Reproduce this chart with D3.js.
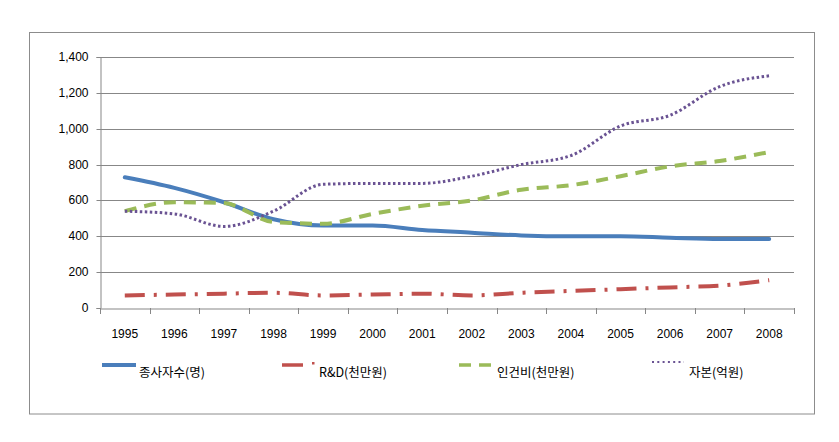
<!DOCTYPE html>
<html><head><meta charset="utf-8">
<script src="https://cdn.jsdelivr.net/npm/d3@7/dist/d3.min.js"></script>
<style>
body{margin:0;background:#fff;}
text{font-family:"Liberation Sans",Arial,sans-serif;}
.kr{font-family:"Noto Sans CJK KR","Noto Sans",sans-serif;}
</style></head>
<body><svg id="c" width="839" height="442"></svg>
<script>
const years = ["1995","1996","1997","1998","1999","2000","2001","2002","2003","2004","2005","2006","2007","2008"];
const workers = [729,670,590,495,460,460,435,420,405,400,400,392,385,385];
const rnd = [70,75,80,85,70,75,80,70,85,95,105,115,125,155];
const labor = [540,590,585,480,470,525,570,600,660,685,735,790,820,870];
const capital = [540,525,455,540,690,695,695,735,800,850,1015,1075,1235,1295];
const yTicks = [0,200,400,600,800,1000,1200,1400];
const seriesNames = ["종사자수(명)","R&D(천만원)","인건비(천만원)","자본(억원)"];

const svg = d3.select("#c");
svg.append("rect").attr("x",29.5).attr("y",32.5).attr("width",785).attr("height",381.5)
  .attr("fill","#fff").attr("stroke","#8c8c8c").attr("stroke-width",1);

const L=100, R=794, T=57, B=308;
const x = d3.scaleBand().domain(years).range([L,R]).padding(0);
const y = d3.scaleLinear().domain([0,1400]).range([B,T]);

// gridlines
svg.append("g").selectAll("line").data(yTicks.filter(d=>d>0)).join("line")
  .attr("x1",L).attr("x2",R).attr("y1",d=>Math.round(y(d))+0.5).attr("y2",d=>Math.round(y(d))+0.5)
  .attr("stroke","#878787").attr("stroke-width",1);

// y axis
const ya = svg.append("g").attr("transform",`translate(${L+0.5},0)`)
  .call(d3.axisLeft(y).tickValues(yTicks).tickSize(4).tickFormat(d3.format(",")));
ya.select(".domain").attr("stroke","#878787");
ya.selectAll(".tick line").attr("stroke","#878787");
ya.selectAll(".tick").attr("transform",d=>`translate(0,${Math.round(y(d))+0.5})`);
ya.selectAll(".tick text").attr("font-size",12).attr("fill","#000").attr("x",-12)
  .style("font-family","'Liberation Sans',Arial,sans-serif");

// x axis
const xa = svg.append("g").attr("transform",`translate(0,${B+0.5})`)
  .call(d3.axisBottom(x).tickSize(0).tickPadding(0));
xa.select(".domain").attr("stroke","#878787");
xa.selectAll(".tick text").attr("font-size",12).attr("fill","#000").attr("dy","29px")
  .style("font-family","'Liberation Sans',Arial,sans-serif");
const edges = years.map(d=>x(d)).concat([x(years[years.length-1])+x.bandwidth()]);
svg.append("g").selectAll("line").data(edges).join("line")
  .attr("x1",d=>Math.round(d)+0.5).attr("x2",d=>Math.round(d)+0.5)
  .attr("y1",B).attr("y2",B+6).attr("stroke","#878787");

const cx = i => x(years[i]) + x.bandwidth()/2;
const styles = [
  {data:workers, color:"#4a7ebb", w:4, dash:null, cap:"round"},
  {data:rnd, color:"#c0504d", w:4, dash:"20,9,3,9", cap:"butt"},
  {data:labor, color:"#9bbb59", w:4, dash:"12,8", cap:"butt"},
  {data:capital, color:"#6a5393", w:3, dash:"2.5,2.5", cap:"butt"}
];
const line = d3.line().x((d,i)=>cx(i)).y(d=>y(d)).curve(d3.curveMonotoneX);
styles.forEach(s=>{
  svg.append("path").datum(s.data).attr("d",line).attr("fill","none")
    .attr("stroke",s.color).attr("stroke-width",s.w).attr("stroke-linecap",s.cap)
    .attr("stroke-linejoin","round")
    .attr("stroke-dasharray",s.dash);
});

// legend
const ly = 365;
const leg = [
  {x1:102,x2:136,tx:139},
  {x1:282,x2:303,tx:319},
  {x1:459,x2:492,tx:497},
  {x1:652,x2:684,tx:689}
];
leg.forEach((l,i)=>{
  const s = styles[i];
  let dash = null;
  if(i===2) dash="12,8";
  if(i===3) dash="2,3.3";
  const w = i===3?2:(i===0?4:3.5);
  svg.append("line").attr("x1",l.x1).attr("x2",l.x2).attr("y1",i===3?ly-3:ly).attr("y2",i===3?ly-3:ly)
    .attr("stroke",s.color).attr("stroke-width",w).attr("stroke-dasharray",dash);
  if(i===1){
    svg.append("rect").attr("x",312).attr("y",ly-3).attr("width",2.5).attr("height",2.5).attr("fill",s.color);
  }
  svg.append("text").attr("class","kr").attr("x",l.tx).attr("y",ly+12)
    .attr("font-size",12.5).attr("fill","#000").text(seriesNames[i]);
});
</script></body></html>
